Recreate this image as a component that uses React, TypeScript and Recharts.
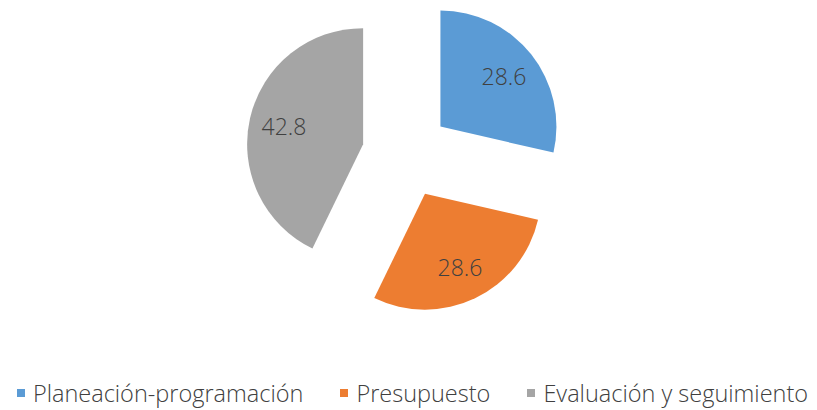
import React from "react";
import { PieChart, Pie, Cell, Sector, Legend } from "recharts";

const categories = ["Planeación-programación", "Presupuesto", "Evaluación y seguimiento"];
const values = [28.6, 28.6, 42.8];
const colors = ["#5B9BD5", "#ED7D31", "#A5A5A5"];

const data = categories.map((name, i) => ({ name, value: values[i] }));

const EXPLODE = 44;
const RAD = Math.PI / 180;

const renderShape = (props: any) => {
  const { cx, cy, midAngle } = props;
  const dx = EXPLODE * Math.cos(-midAngle * RAD);
  const dy = EXPLODE * Math.sin(-midAngle * RAD);
  return <Sector {...props} cx={cx + dx} cy={cy + dy} stroke="none" />;
};

const renderLabel = (props: any) => {
  const { cx, cy, midAngle, outerRadius, value } = props;
  const r = outerRadius * 0.7 + EXPLODE;
  const x = cx + r * Math.cos(-midAngle * RAD);
  const y = cy + r * Math.sin(-midAngle * RAD);
  return (
    <text
      x={x}
      y={y}
      fill="#404040"
      textAnchor="middle"
      dominantBaseline="central"
      style={{ fontFamily: "'Open Sans', sans-serif", fontWeight: 300, fontSize: 23 }}
    >
      {value}
    </text>
  );
};

const renderLegend = () => {
  return (
    <div
      style={{
        display: "flex",
        justifyContent: "center",
        alignItems: "center",
        gap: 37,
        fontFamily: "'Open Sans', sans-serif",
        fontWeight: 300,
        fontSize: 23.5,
        lineHeight: "normal",
        color: "#404040",
      }}
    >
      {categories.map((name, i) => (
        <div key={name} style={{ display: "flex", alignItems: "center" }}>
          <span
            style={{
              display: "inline-block",
              width: 8,
              height: 8,
              background: colors[i],
              marginRight: 8,
            }}
          />
          <span>{name}</span>
        </div>
      ))}
    </div>
  );
};

export default function App() {
  return (
    <div style={{ position: "absolute", left: 0, top: 0, width: 817, height: 410, background: "#fff", overflow: "hidden" }}>
      <PieChart width={817} height={410} margin={{ top: 0, right: 0, bottom: 0, left: 0 }}>
        <Pie
          data={data}
          dataKey="value"
          nameKey="name"
          cx={406}
          cy={154}
          outerRadius={116}
          startAngle={90}
          endAngle={-270}
          isAnimationActive={false}
          shape={renderShape}
          label={renderLabel}
          labelLine={false}
          stroke="none"
        >
          {data.map((d, i) => (
            <Cell key={d.name} fill={colors[i]} />
          ))}
        </Pie>
        <Legend
          content={renderLegend}
          wrapperStyle={{ position: "absolute", left: 4, top: 377, width: 817 }}
        />
      </PieChart>
    </div>
  );
}
